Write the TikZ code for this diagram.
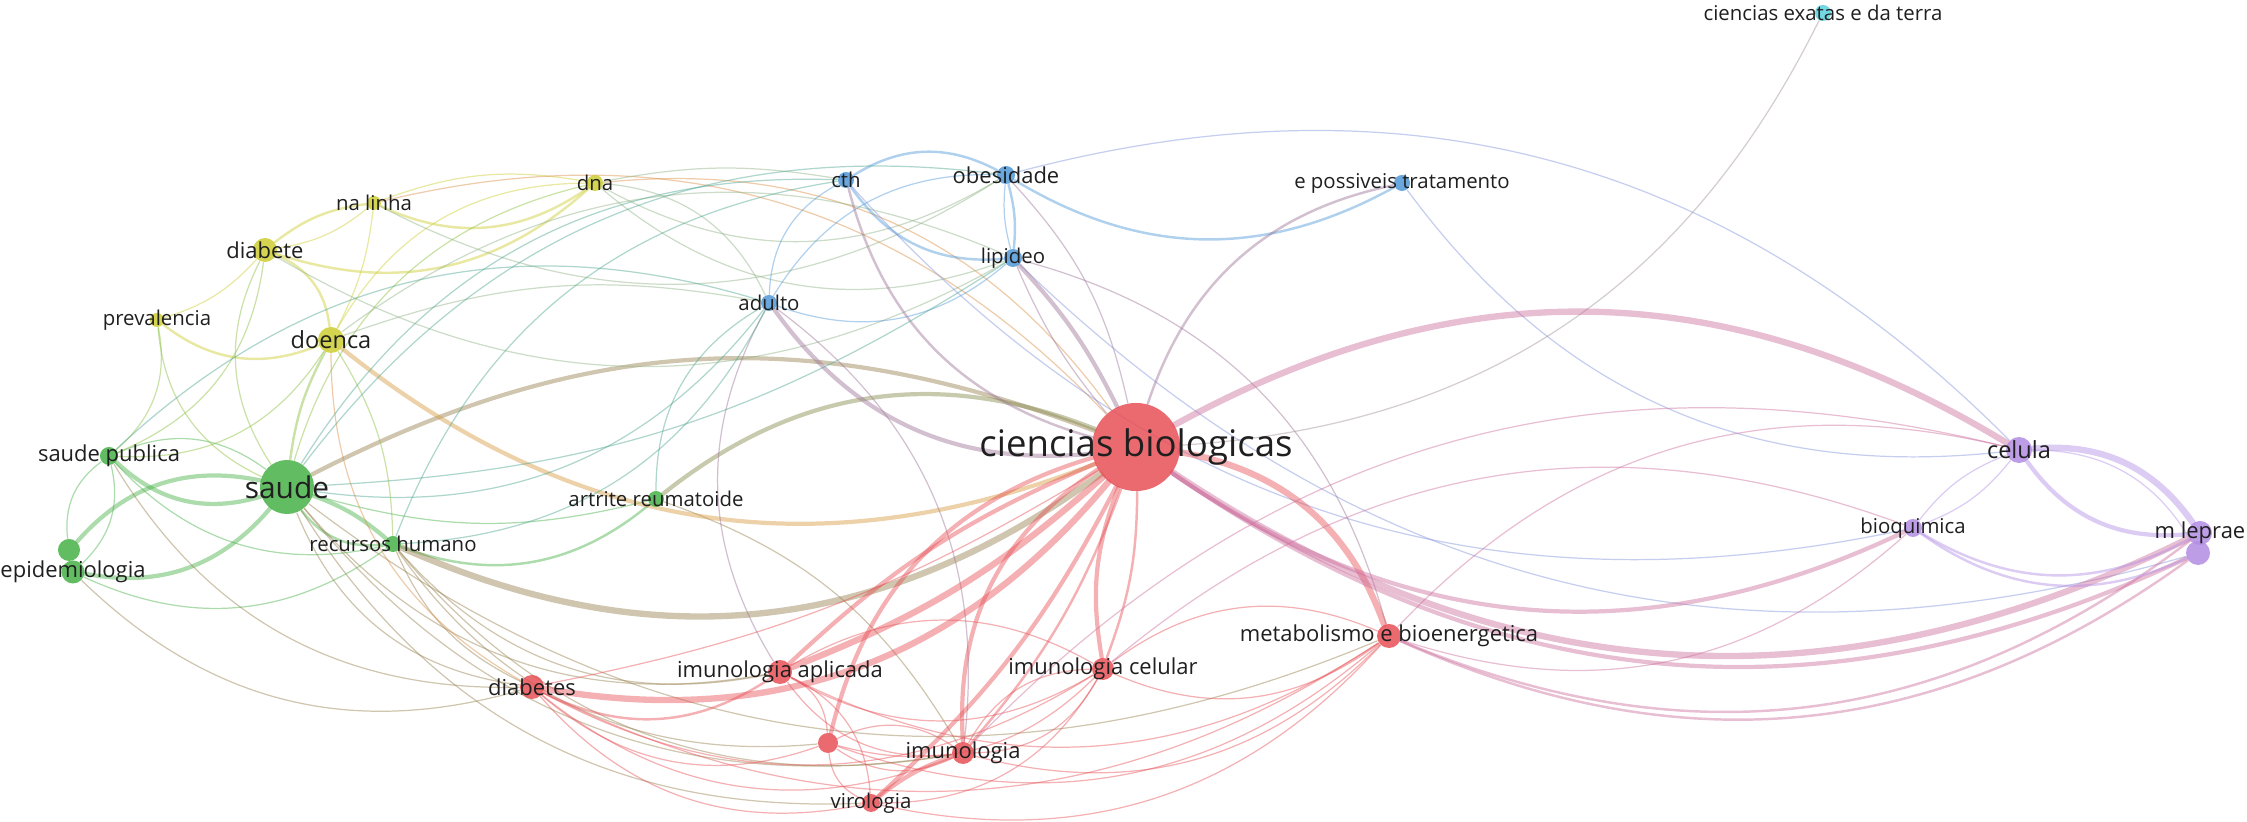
\documentclass[tikz,border=0pt]{standalone}
\usepackage{fontspec}
\setmainfont{Open Sans}
\usetikzlibrary{backgrounds}
\definecolor{cR}{RGB}{230,80,86}
\definecolor{cG}{RGB}{70,176,70}
\definecolor{cY}{RGB}{204,204,50}
\definecolor{cB}{RGB}{80,152,214}
\definecolor{cP}{RGB}{178,140,226}
\definecolor{cC}{RGB}{88,208,222}
\newcommand{\fsz}[1]{\fontsize{#1}{#1}\selectfont}

\begin{document}
\begin{tikzpicture}[x=0.01cm,y=-0.01cm]

\tikzstyle{vn}=[circle,inner sep=0pt,fill opacity=.85]
\tikzstyle{lb}=[inner sep=0pt,text=black!88,font=\fsz{5.8}]
\tikzstyle{lbm}=[lb,font=\fsz{6.25}]
\tikzstyle{lk}=[opacity=.45,line cap=round]
\tikzstyle{w1}=[line width=.35pt]
\tikzstyle{w2}=[line width=.7pt]
\tikzstyle{w3}=[line width=1.2pt]
\tikzstyle{w4}=[line width=1.8pt]

\useasboundingbox (0,0) rectangle (2247,822);

% nodes
\path (1136,447) node[vn,fill=cR,minimum size=.88cm] (cb) {};
\path (287,487)  node[vn,fill=cG,minimum size=.54cm] (saude) {};
\path (109,456)  node[vn,fill=cG,minimum size=.18cm] (sp) {};
\path (69,550)   node[vn,fill=cG,minimum size=.22cm] (epi2) {};
\path (73,572)   node[vn,fill=cG,minimum size=.23cm] (epi) {};
\path (393,544)  node[vn,fill=cG,minimum size=.16cm] (rh) {};
\path (656,499)  node[vn,fill=cG,minimum size=.16cm] (ar) {};
\path (157,320)  node[vn,fill=cY,minimum size=.14cm] (prev) {};
\path (265,250)  node[vn,fill=cY,minimum size=.24cm] (diabete) {};
\path (331,340)  node[vn,fill=cY,minimum size=.26cm] (doenca) {};
\path (374,203)  node[vn,fill=cY,minimum size=.14cm] (nalinha) {};
\path (595,183)  node[vn,fill=cY,minimum size=.16cm] (dna) {};
\path (846,180)  node[vn,fill=cB,minimum size=.16cm] (cth) {};
\path (1006,175) node[vn,fill=cB,minimum size=.18cm] (obes) {};
\path (1013,258) node[vn,fill=cB,minimum size=.18cm] (lip) {};
\path (769,303)  node[vn,fill=cB,minimum size=.16cm] (adulto) {};
\path (1402,183) node[vn,fill=cB,minimum size=.16cm] (ept) {};
\path (1823,13)  node[vn,fill=cC,minimum size=.16cm] (cet) {};
\path (2019,450) node[vn,fill=cP,minimum size=.26cm] (celula) {};
\path (1913,528) node[vn,fill=cP,minimum size=.18cm] (bioq) {};
\path (2198,553) node[vn,fill=cP,minimum size=.24cm] (mlep2) {};
\path (2200,533) node[vn,fill=cP,minimum size=.24cm] (mlep) {};
\path (1389,636) node[vn,fill=cR,minimum size=.24cm] (meta) {};
\path (532,687)  node[vn,fill=cR,minimum size=.24cm] (diabetes) {};
\path (780,672)  node[vn,fill=cR,minimum size=.24cm] (ia) {};
\path (1103,669) node[vn,fill=cR,minimum size=.22cm] (ic) {};
\path (828,743)  node[vn,fill=cR,minimum size=.2cm] (unl) {};
\path (963,753)  node[vn,fill=cR,minimum size=.22cm] (imu) {};
\path (871,803)  node[vn,fill=cR,minimum size=.18cm] (vir) {};

% labels
\path (cb)       node[lb,font=\fsz{10.4}] (cb-l) {ciencias biologicas};
\path (saude)    node[lb,font=\fsz{8.5}] (saude-l) {saude};
\path (sp)       node[lbm] (sp-l) {saude publica};
\path (epi)      node[lbm] (epi-l) {epidemiologia};
\path (rh)       node[lb] (rh-l) {recursos humano};
\path (ar)       node[lb] (ar-l) {artrite reumatoide};
\path (prev)     node[lb] (prev-l) {prevalencia};
\path (diabete)  node[lbm] (diabete-l) {diabete};
\path (doenca)   node[lb,font=\fsz{6.7}] (doenca-l) {doenca};
\path (nalinha)  node[lb] (nalinha-l) {na linha};
\path (dna)      node[lb] (dna-l) {dna};
\path (cth)      node[lb] (cth-l) {cth};
\path (obes)     node[lbm] (obes-l) {obesidade};
\path (lip)      node[lb] (lip-l) {lipideo};
\path (adulto)   node[lb] (adulto-l) {adulto};
\path (ept)      node[lb] (ept-l) {e possiveis tratamento};
\path (cet)      node[lb] (cet-l) {ciencias exatas e da terra};
\path (celula)   node[lb,font=\fsz{6.7}] (celula-l) {celula};
\path (bioq)     node[lb] (bioq-l) {bioquimica};
\path (mlep)     node[lbm] (mlep-l) {m leprae};
\path (meta)     node[lbm] (meta-l) {metabolismo e bioenergetica};
\path (diabetes) node[lbm] (diabetes-l) {diabetes};
\path (ia)       node[lbm] (ia-l) {imunologia aplicada};
\path (ic)       node[lbm] (ic-l) {imunologia celular};
\path (imu)      node[lbm] (imu-l) {imunologia};
\path (vir)      node[lb] (vir-l) {virologia};

% links
\begin{scope}[on background layer]
% green
\draw[lk,w3,cG] (saude) to[bend left] (sp);
\draw[lk,w1,cG] (sp) to[bend left] (saude);
\draw[lk,w3,cG] (epi2) to[bend left] (saude);
\draw[lk,w3,cG] (saude) to[bend left] (epi);
\draw[lk,w1,cG] (epi2) to[bend left] (sp);
\draw[lk,w1,cG] (sp) to[bend left] (epi);
\draw[lk,w3,cG] (saude) to[bend left=10] (rh);
\draw[lk,w2,cG] (rh) to[bend left] (saude);
\draw[lk,w2,cG] (ar) to[bend left] (rh);
\draw[lk,w1,cG] (ar) to[bend left=15] (saude);
\draw[lk,w1,cG] (rh) to[bend left] (epi);
\draw[lk,w1,cG] (rh) to[bend left] (sp);
% green - red
\draw[lk,w4,cG!50!cR] (cb) to[bend left] (rh);
\draw[lk,w3,cG!50!cR] (saude) to[bend left=24] (cb);
\draw[lk,w3,cG!60!cR] (ar) to[bend left] (cb);
\draw[lk,w1,cG!50!cR] (diabetes) to[bend left] (saude);
\draw[lk,w1,cG!50!cR] (diabetes) to[bend left=20] (rh);
\draw[lk,w1,cG!50!cR] (diabetes) to[bend left] (epi);
\draw[lk,w1,cG!50!cR] (diabetes) to[bend left] (sp);
\draw[lk,w1,cG!50!cR] (ia) to[bend left] (saude);
\draw[lk,w1,cG!50!cR] (imu) to[bend left] (saude);
\draw[lk,w1,cG!50!cR] (vir) to[bend left] (saude);
\draw[lk,w1,cG!50!cR] (unl) to[bend left] (rh);
\draw[lk,w1,cG!50!cR] (imu) to[bend left] (rh);
\draw[lk,w1,cG!50!cR] (ia) to[bend left] (rh);
\draw[lk,w1,cG!50!cR] (meta) to[bend left] (saude);
\draw[lk,w1,cG!50!cR] (ar) to[bend left=20] (imu);
% yellow
\draw[lk,w2,cY] (diabete) to[bend left=15] (nalinha);
\draw[lk,w1,cY] (nalinha) to[bend left=15] (diabete);
\draw[lk,w2,cY] (dna) to[bend left] (diabete);
\draw[lk,w2,cY] (dna) to[bend left] (nalinha);
\draw[lk,w1,cY] (nalinha) to[bend left=15] (dna);
\draw[lk,w1,cY] (diabete) to[bend left=15] (prev);
\draw[lk,w2,cY] (diabete) to[bend left] (doenca);
\draw[lk,w2,cY] (doenca) to[bend left] (prev);
\draw[lk,w1,cY] (nalinha) to[bend left=10] (doenca);
\draw[lk,w1,cY] (doenca) to[bend left] (dna);
% yellow - other
\draw[lk,w1,cY!50!cG] (saude) to[bend left] (prev);
\draw[lk,w1,cY!50!cG] (prev) to[bend left] (sp);
\draw[lk,w1,cY!50!cG] (saude) to[bend left] (diabete);
\draw[lk,w1,cY!50!cG] (diabete) to[bend left] (sp);
\draw[lk,w2,cY!50!cG] (saude) to[bend left=10] (doenca);
\draw[lk,w1,cY!50!cG] (doenca) to[bend left] (sp);
\draw[lk,w1,cY!50!cG] (doenca) to[bend left=15] (rh);
\draw[lk,w1,cY!50!cG] (saude) to[bend left] (dna);
\draw[lk,w3,cY!60!cR] (cb) to[bend left] (doenca);
\draw[lk,w1,cY!50!cR] (dna) to[bend left] (cb);
\draw[lk,w1,cY!50!cR] (nalinha) to[bend left] (cb);
\draw[lk,w1,cY!50!cR] (diabetes) to[bend left] (doenca);
\draw[lk,w1,cY!50!cB] (dna) to[bend left=10] (cth);
\draw[lk,w1,cY!50!cB] (obes) to[bend left] (dna);
\draw[lk,w1,cY!50!cB] (lip) to[bend left] (dna);
\draw[lk,w1,cY!50!cB] (dna) to[bend left] (adulto);
\draw[lk,w1,cY!50!cB] (doenca) to[bend left] (lip);
\draw[lk,w1,cY!50!cB] (doenca) to[bend left=15] (adulto);
\draw[lk,w1,cY!50!cB] (lip) to[bend left] (diabete);
\draw[lk,w1,cY!50!cB] (obes) to[bend left] (nalinha);
% blue
\draw[lk,w2,cB] (cth) to[bend left] (obes);
\draw[lk,w2,cB] (ept) to[bend left] (obes);
\draw[lk,w2,cB] (obes) to[bend left=10] (lip);
\draw[lk,w1,cB] (lip) to[bend left=10] (obes);
\draw[lk,w2,cB] (lip) to[bend left] (cth);
\draw[lk,w1,cB] (adulto) to[bend left] (cth);
\draw[lk,w1,cB] (adulto) to[bend left] (obes);
\draw[lk,w1,cB] (lip) to[bend left] (adulto);
\draw[lk,w1,cB!50!cP] (obes) to[bend left] (celula);
\draw[lk,w1,cB!50!cP] (celula) to[bend left] (ept);
\draw[lk,w1,cB!50!cP] (bioq) to[bend left] (cth);
\draw[lk,w1,cB!50!cP] (mlep2) to[bend left] (lip);
\draw[lk,w2,cB!50!cR] (cb) to[bend left] (ept);
\draw[lk,w3,cB!50!cR] (cb) to[bend left] (adulto);
\draw[lk,w3,cB!50!cR] (lip) to[bend left=8] (cb);
\draw[lk,w1,cB!50!cR] (cb) to[bend left=8] (lip);
\draw[lk,w2,cB!50!cR] (cb) to[bend left] (cth);
\draw[lk,w1,cB!50!cR] (obes) to[bend left=15] (cb);
\draw[lk,w1,cB!50!cR] (lip) to[bend left] (meta);
\draw[lk,w1,cB!50!cR] (ia) to[bend left] (adulto);
\draw[lk,w1,cB!50!cR] (adulto) to[bend left] (imu);
\draw[lk,w1,cB!50!cG] (adulto) to[bend left] (saude);
\draw[lk,w1,cB!50!cG] (saude) to[bend left] (cth);
\draw[lk,w1,cB!50!cG] (saude) to[bend left] (obes);
\draw[lk,w1,cB!50!cG] (lip) to[bend left=15] (saude);
\draw[lk,w1,cB!50!cG] (rh) to[bend left] (cth);
\draw[lk,w1,cB!50!cG] (adulto) to[bend left] (rh);
\draw[lk,w1,cB!50!cG] (ar) to[bend left] (adulto);
\draw[lk,w1,cB!50!cG] (sp) to[bend left] (adulto);
% cyan
\draw[lk,w1,cC!50!cR] (cet) to[bend left] (cb);
% red
\draw[lk,w4,cR] (cb) to[bend left=10] (ia);
\draw[lk,w3,cR] (ia) to[bend left=10] (cb);
\draw[lk,w4,cR] (cb) to[bend left] (diabetes);
\draw[lk,w1,cR] (cb) to[bend left=10] (diabetes);
\draw[lk,w3,cR] (unl) to[bend left] (cb);
\draw[lk,w3,cR] (imu) to[bend left] (cb);
\draw[lk,w2,cR] (cb) to[bend left=10] (imu);
\draw[lk,w3,cR] (cb) to[bend left=10] (vir);
\draw[lk,w3,cR] (ic) to[bend left=15] (cb);
\draw[lk,w2,cR] (cb) to[bend left=10] (ic);
\draw[lk,w4,cR] (cb) to[bend left] (meta);
\draw[lk,w2,cR] (ia) to[bend left] (diabetes);
\draw[lk,w1,cR] (imu) to[bend left] (diabetes);
\draw[lk,w1,cR] (vir) to[bend left] (diabetes);
\draw[lk,w1,cR] (unl) to[bend left] (diabetes);
\draw[lk,w1,cR] (meta) to[bend left] (diabetes);
\draw[lk,w1,cR] (ic) to[bend left] (diabetes);
\draw[lk,w1,cR] (ia) to[bend left] (unl);
\draw[lk,w1,cR] (imu) to[bend left] (ia);
\draw[lk,w1,cR] (ia) to[bend left] (vir);
\draw[lk,w1,cR] (ic) to[bend left] (ia);
\draw[lk,w1,cR] (ia) to[bend left] (ic);
\draw[lk,w1,cR] (meta) to[bend left] (ia);
\draw[lk,w1,cR] (unl) to[bend left] (imu);
\draw[lk,w1,cR] (imu) to[bend left] (unl);
\draw[lk,w1,cR] (vir) to[bend left] (unl);
\draw[lk,w1,cR] (ic) to[bend left] (unl);
\draw[lk,w1,cR] (meta) to[bend left] (unl);
\draw[lk,w3,cR] (vir) to[bend left=10] (imu);
\draw[lk,w1,cR] (ic) to[bend left] (imu);
\draw[lk,w1,cR] (imu) to[bend left] (ic);
\draw[lk,w1,cR] (meta) to[bend left] (imu);
\draw[lk,w1,cR] (ic) to[bend left] (vir);
\draw[lk,w1,cR] (meta) to[bend left] (vir);
\draw[lk,w1,cR] (ic) to[bend left] (meta);
\draw[lk,w1,cR] (meta) to[bend left] (ic);
% red - purple
\draw[lk,w4,cR!50!cP] (cb) to[bend left] (celula);
\draw[lk,w4,cR!50!cP] (mlep) to[bend left] (cb);
\draw[lk,w3,cR!50!cP] (mlep2) to[bend left] (cb);
\draw[lk,w3,cR!50!cP] (bioq) to[bend left] (cb);
\draw[lk,w2,cR!50!cP] (mlep) to[bend left] (meta);
\draw[lk,w2,cR!50!cP] (mlep2) to[bend left] (meta);
\draw[lk,w1,cR!50!cP] (bioq) to[bend left] (meta);
\draw[lk,w1,cR!50!cP] (meta) to[bend left] (celula);
\draw[lk,w1,cR!50!cP] (ic) to[bend left] (bioq);
\draw[lk,w1,cR!50!cP] (imu) to[bend left] (celula);
% purple
\draw[lk,w4,cP] (celula) to[bend left] (mlep);
\draw[lk,w3,cP] (mlep) to[bend left] (celula);
\draw[lk,w1,cP] (celula) to[bend left=15] (bioq);
\draw[lk,w1,cP] (bioq) to[bend left=15] (celula);
\draw[lk,w2,cP] (mlep) to[bend left] (bioq);
\draw[lk,w2,cP] (mlep2) to[bend left] (bioq);
\draw[lk,w1,cP] (celula) to[bend left] (mlep2);
\end{scope}

\end{tikzpicture}
\end{document}
